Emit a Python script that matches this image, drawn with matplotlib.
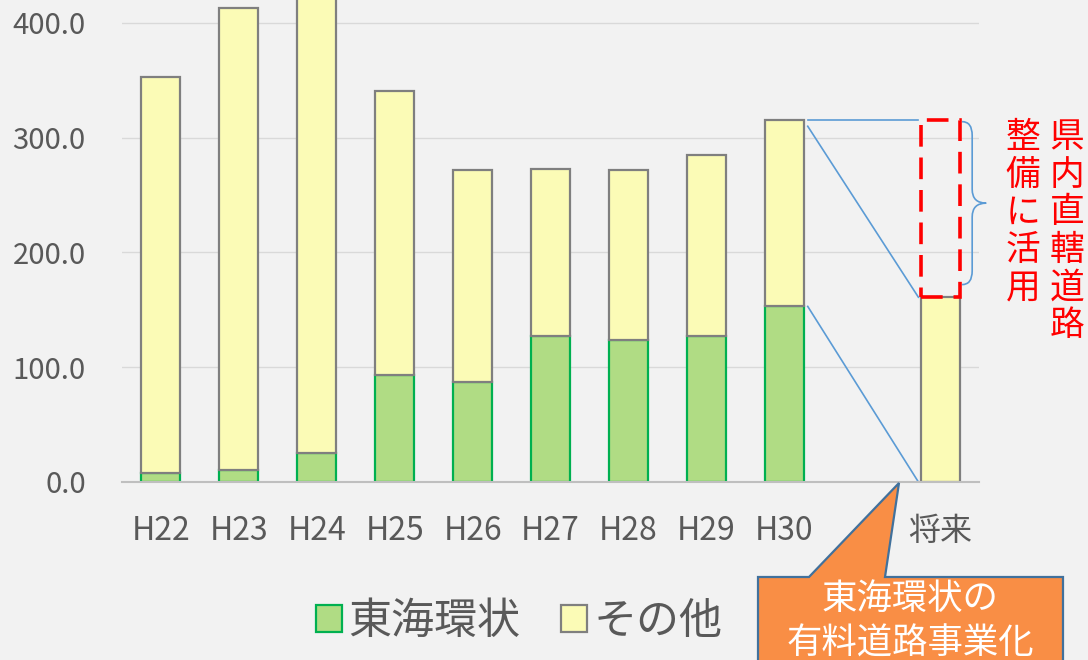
import matplotlib
matplotlib.use("Agg")
import matplotlib.pyplot as plt
import numpy as np
from matplotlib.patches import Patch, Polygon, Rectangle, PathPatch
from matplotlib.path import Path

# data
categories = ["H22", "H23", "H24", "H25", "H26", "H27", "H28", "H29", "H30", "将来"]
tokai_kanjo = [8, 10.5, 25, 93, 87, 127, 124, 127, 153, 0]
sonota = [345, 402.5, 405, 248, 185, 146, 148, 158, 162, 161]
y_ticks = [0, 100, 200, 300, 400]

green_fill = "#B0DC84"
green_edge = "#00B050"
yellow_fill = "#FBFBB6"
gray_edge = "#7F7F7F"
text_gray = "#595959"
bg = "#F2F2F2"
blue = "#5B9BD5"

plt.rcParams["font.family"] = ["Noto Sans CJK JP", "DejaVu Sans"]

fig = plt.figure(figsize=(10.88, 6.6), dpi=100, facecolor=bg)
ax = fig.add_axes([0.112, 0.2697, 0.788, 0.7303])
ax.set_facecolor(bg)

# gap slot before the last category
x = np.arange(len(categories), dtype=float)
x[-1] += 1
width = 0.5

green = np.array(tokai_kanjo, dtype=float)
other = np.array(sonota, dtype=float)
total = green + other

has_green = green > 0
ax.bar(x[has_green], green[has_green], width, color=green_fill,
       edgecolor=green_edge, linewidth=1.6, zorder=3)
ax.bar(x, other, width, bottom=green, color=yellow_fill,
       edgecolor=gray_edge, linewidth=1.6, zorder=4)

ax.set_xlim(-0.5, 10.5)
ax.set_ylim(0, 420)
ax.set_yticks(y_ticks)
ax.set_yticklabels([f"{v:.1f}" for v in y_ticks])
ax.set_xticks(x)
ax.set_xticklabels(categories)
ax.tick_params(axis="y", length=0, pad=26, labelsize=21, labelcolor=text_gray)
ax.tick_params(axis="x", length=0, pad=24, labelsize=23, labelcolor=text_gray)
ax.grid(axis="y", color="#D9D9D9", linewidth=1.0, zorder=0)
ax.set_axisbelow(True)
for side in ["top", "right", "left"]:
    ax.spines[side].set_visible(False)
ax.spines["bottom"].set_color("#BFBFBF")
ax.spines["bottom"].set_linewidth(1.5)
ax.spines["bottom"].set_zorder(5)

# connector lines from H30 to the future bar
i30 = categories.index("H30")
ifu = len(categories) - 1
x0 = x[i30] + width / 2 + 0.05
x1 = x[ifu] - width / 2 - 0.03
ax.plot([x0, x1], [total[i30], total[i30]], color=blue, lw=1.2, zorder=5, clip_on=False)
ax.plot([x0, x1], [total[i30] - 5, total[ifu]], color=blue, lw=1.2, zorder=5)
ax.plot([x0, x1], [green[i30], 0], color=blue, lw=1.2, zorder=5)

# red dashed box on the future bar
ax.add_patch(Rectangle((x[ifu] - width / 2, total[ifu]), width, total[i30] - total[ifu],
                       fill=False, edgecolor="#FF0000", lw=2.6,
                       linestyle=(0, (6, 3)), zorder=6, clip_on=False))

# curly brace
top_b, bot_b = total[i30] - 1, total[ifu] + 11
mid_b = (top_b + bot_b) / 2
xa, xb, xc = 10.28, 10.41, 10.59
verts = [(xa, top_b), (xb, top_b), (xb, top_b - 12),
         (xb, mid_b + 12), (xb, mid_b), (xc, mid_b),
         (xb, mid_b), (xb, mid_b - 12),
         (xb, bot_b + 12), (xb, bot_b), (xa, bot_b)]
codes = [Path.MOVETO, Path.CURVE3, Path.CURVE3,
         Path.LINETO, Path.CURVE3, Path.CURVE3,
         Path.CURVE3, Path.CURVE3,
         Path.LINETO, Path.CURVE3, Path.CURVE3]
ax.add_patch(PathPatch(Path(verts, codes), fill=False, edgecolor=blue, lw=1.2,
                       clip_on=False, zorder=6))

# vertical red text
fig.text(1067 / 1088, 1 - 120 / 660, "\n".join("県内直轄道路"), color="#FF0000",
         fontsize=25, ha="center", va="top", linespacing=1.1)
fig.text(1023 / 1088, 1 - 120 / 660, "\n".join("整備に活用"), color="#FF0000",
         fontsize=25, ha="center", va="top", linespacing=1.1)

# callout
pts = [(758, 577), (809, 577), (899, 483), (885, 577), (1063, 577), (1063, 670), (758, 670)]
fig.patches.append(Polygon([(px / 1088, 1 - py / 660) for px, py in pts], closed=True,
                           facecolor="#F98E45", edgecolor="#41719C", lw=1.6,
                           transform=fig.transFigure, zorder=10))
fig.text(910 / 1088, 1 - 599 / 660, "東海環状の", color="white", fontsize=25.5,
         ha="center", va="center", zorder=11)
fig.text(910 / 1088, 1 - 644 / 660, "有料道路事業化", color="white", fontsize=25.5,
         ha="center", va="center", zorder=11)

# legend
handles = [Patch(facecolor=green_fill, edgecolor=green_edge, lw=1.6),
           Patch(facecolor=yellow_fill, edgecolor=gray_edge, lw=1.6)]
fig.legend(handles, ["東海環状", "その他"], loc="center", bbox_to_anchor=(0.477, 0.0576),
           ncol=2, frameon=False, fontsize=31, labelcolor=text_gray,
           handlelength=0.6, handleheight=0.6, handletextpad=0.15, columnspacing=0.95)

fig.savefig("out.png", dpi=100, facecolor=bg)
